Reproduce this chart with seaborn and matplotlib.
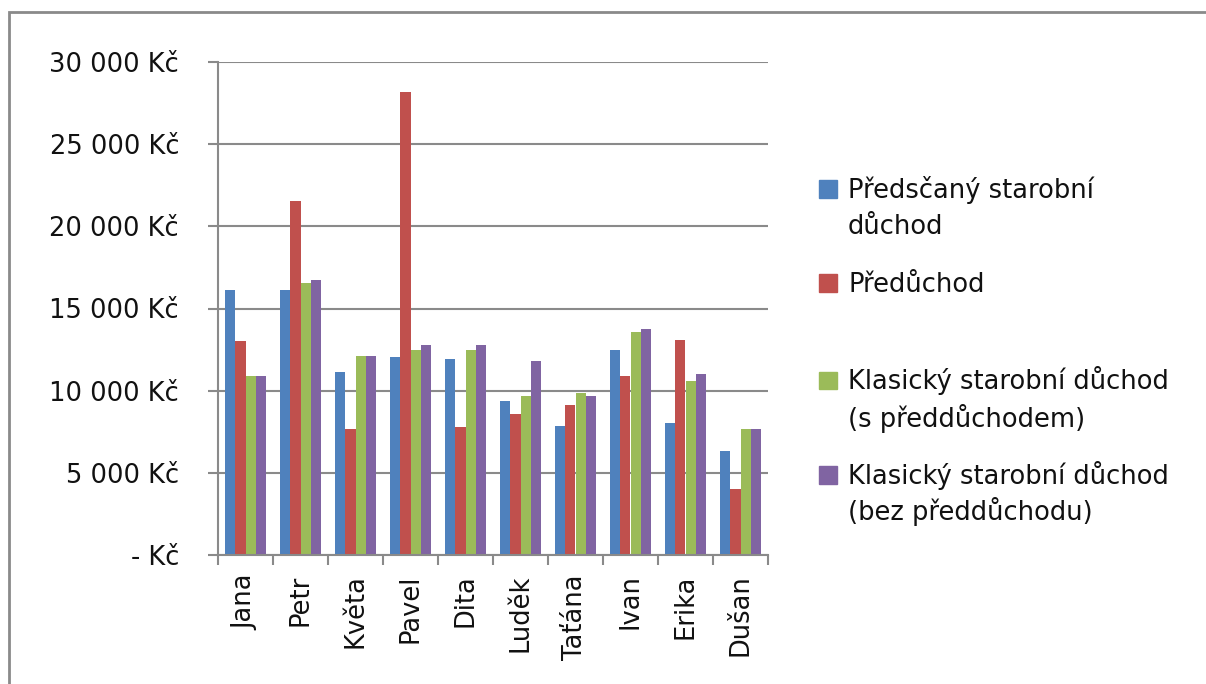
import matplotlib
matplotlib.use('Agg')
import pandas as pd
import matplotlib.pyplot as plt
import seaborn as sns
from matplotlib.patches import Patch, Rectangle

# data (Kč)
jmena = ['Jana', 'Petr', 'Květa', 'Pavel', 'Dita', 'Luděk', 'Taťána', 'Ivan', 'Erika', 'Dušan']
predcasny = [16100, 16100, 11150, 12050, 11950, 9350, 7850, 12450, 8050, 6300]
preduchod = [13000, 21550, 7650, 28150, 7800, 8550, 9150, 10900, 13100, 4000]
klasicky_s = [10900, 16550, 12100, 12450, 12450, 9650, 9850, 13550, 10600, 7650]
klasicky_bez = [10900, 16750, 12100, 12800, 12800, 11800, 9650, 13750, 11000, 7650]

serie = ['Předsčaný starobní důchod', 'Předůchod',
         'Klasický starobní důchod (s předdůchodem)',
         'Klasický starobní důchod (bez předdůchodu)']
# legend text as it is wrapped in the picture
legenda_radky = [['Předsčaný starobní', 'důchod'],
                 ['Předůchod'],
                 ['Klasický starobní důchod', '(s předdůchodem)'],
                 ['Klasický starobní důchod', '(bez předdůchodu)']]
y_ticky = [0, 5000, 10000, 15000, 20000, 25000, 30000]
y_popisky = ['- Kč', '5 000 Kč', '10 000 Kč', '15 000 Kč', '20 000 Kč', '25 000 Kč', '30 000 Kč']

barvy = ['#4F81BD', '#C0504D', '#9BBB59', '#8064A2']
seda = '#8a8a8a'
text_barva = '#111111'

# long table for seaborn
hodnoty = [predcasny, preduchod, klasicky_s, klasicky_bez]
df = pd.DataFrame({
    'jmeno': jmena * 4,
    'typ': [s for s in serie for _ in jmena],
    'castka': [v for h in hodnoty for v in h],
})

sns.set_theme(style='white')
plt.rcParams['font.family'] = ['DejaVu Sans']
fs = 18.5

fig = plt.figure(figsize=(12.06, 6.84), dpi=100)
ax = fig.add_axes([218 / 1206, 1 - 555 / 684, 550 / 1206, 493 / 684])

sns.barplot(data=df, x='jmeno', y='castka', hue='typ', hue_order=serie,
            palette=barvy, saturation=1, width=0.76, legend=False, ax=ax,
            edgecolor='none', errorbar=None)

ax.set_ylim(0, 30000)
ax.set_xlim(-0.5, len(jmena) - 0.5)
ax.set_yticks(y_ticky)
ax.set_yticklabels(y_popisky, fontsize=fs, color=text_barva)
ax.set_xticks(range(len(jmena)))
ax.set_xticklabels(jmena, rotation=90, fontsize=fs, color=text_barva, va='top')
ax.set_xticks([i - 0.5 for i in range(len(jmena) + 1)], minor=True)
ax.set_xlabel('')
ax.set_ylabel('')

ax.yaxis.grid(True, color=seda, lw=1.5)
ax.set_axisbelow(True)
ax.tick_params(axis='y', which='major', left=True, length=7, width=1.5, color=seda, pad=21)
ax.tick_params(axis='x', which='major', bottom=True, length=0, pad=14)
ax.tick_params(axis='x', which='minor', bottom=True, length=7, width=1.5, color=seda)
for s in ['top', 'right']:
    ax.spines[s].set_visible(False)
for s in ['left', 'bottom']:
    ax.spines[s].set_color(seda)
    ax.spines[s].set_linewidth(1.5)

# legend: one entry per series, handle beside the first line
legenda_y = [190, 285, 381, 475]
krok = 37
for barva, radky, yc in zip(barvy, legenda_radky, legenda_y):
    fig.legend(handles=[Patch(color=barva)], labels=[radky[0]], loc='center left',
               bbox_to_anchor=(819 / 1206, 1 - yc / 684), frameon=False,
               borderpad=0, borderaxespad=0, fontsize=fs,
               handlelength=0.70, handleheight=0.70, handletextpad=0.43,
               labelcolor=text_barva)
    for k, radek in enumerate(radky[1:], start=1):
        fig.text(848 / 1206, 1 - (yc + k * krok) / 684, radek, fontsize=fs,
                 color=text_barva, ha='left', va='center')

# outer chart frame (cut off on the right and bottom)
fig.add_artist(Rectangle((9 / 1206, -0.1), 1.2, 1.1 - 12 / 684, transform=fig.transFigure,
                         fill=False, edgecolor=seda, lw=2))

fig.savefig('out.png', dpi=100)
